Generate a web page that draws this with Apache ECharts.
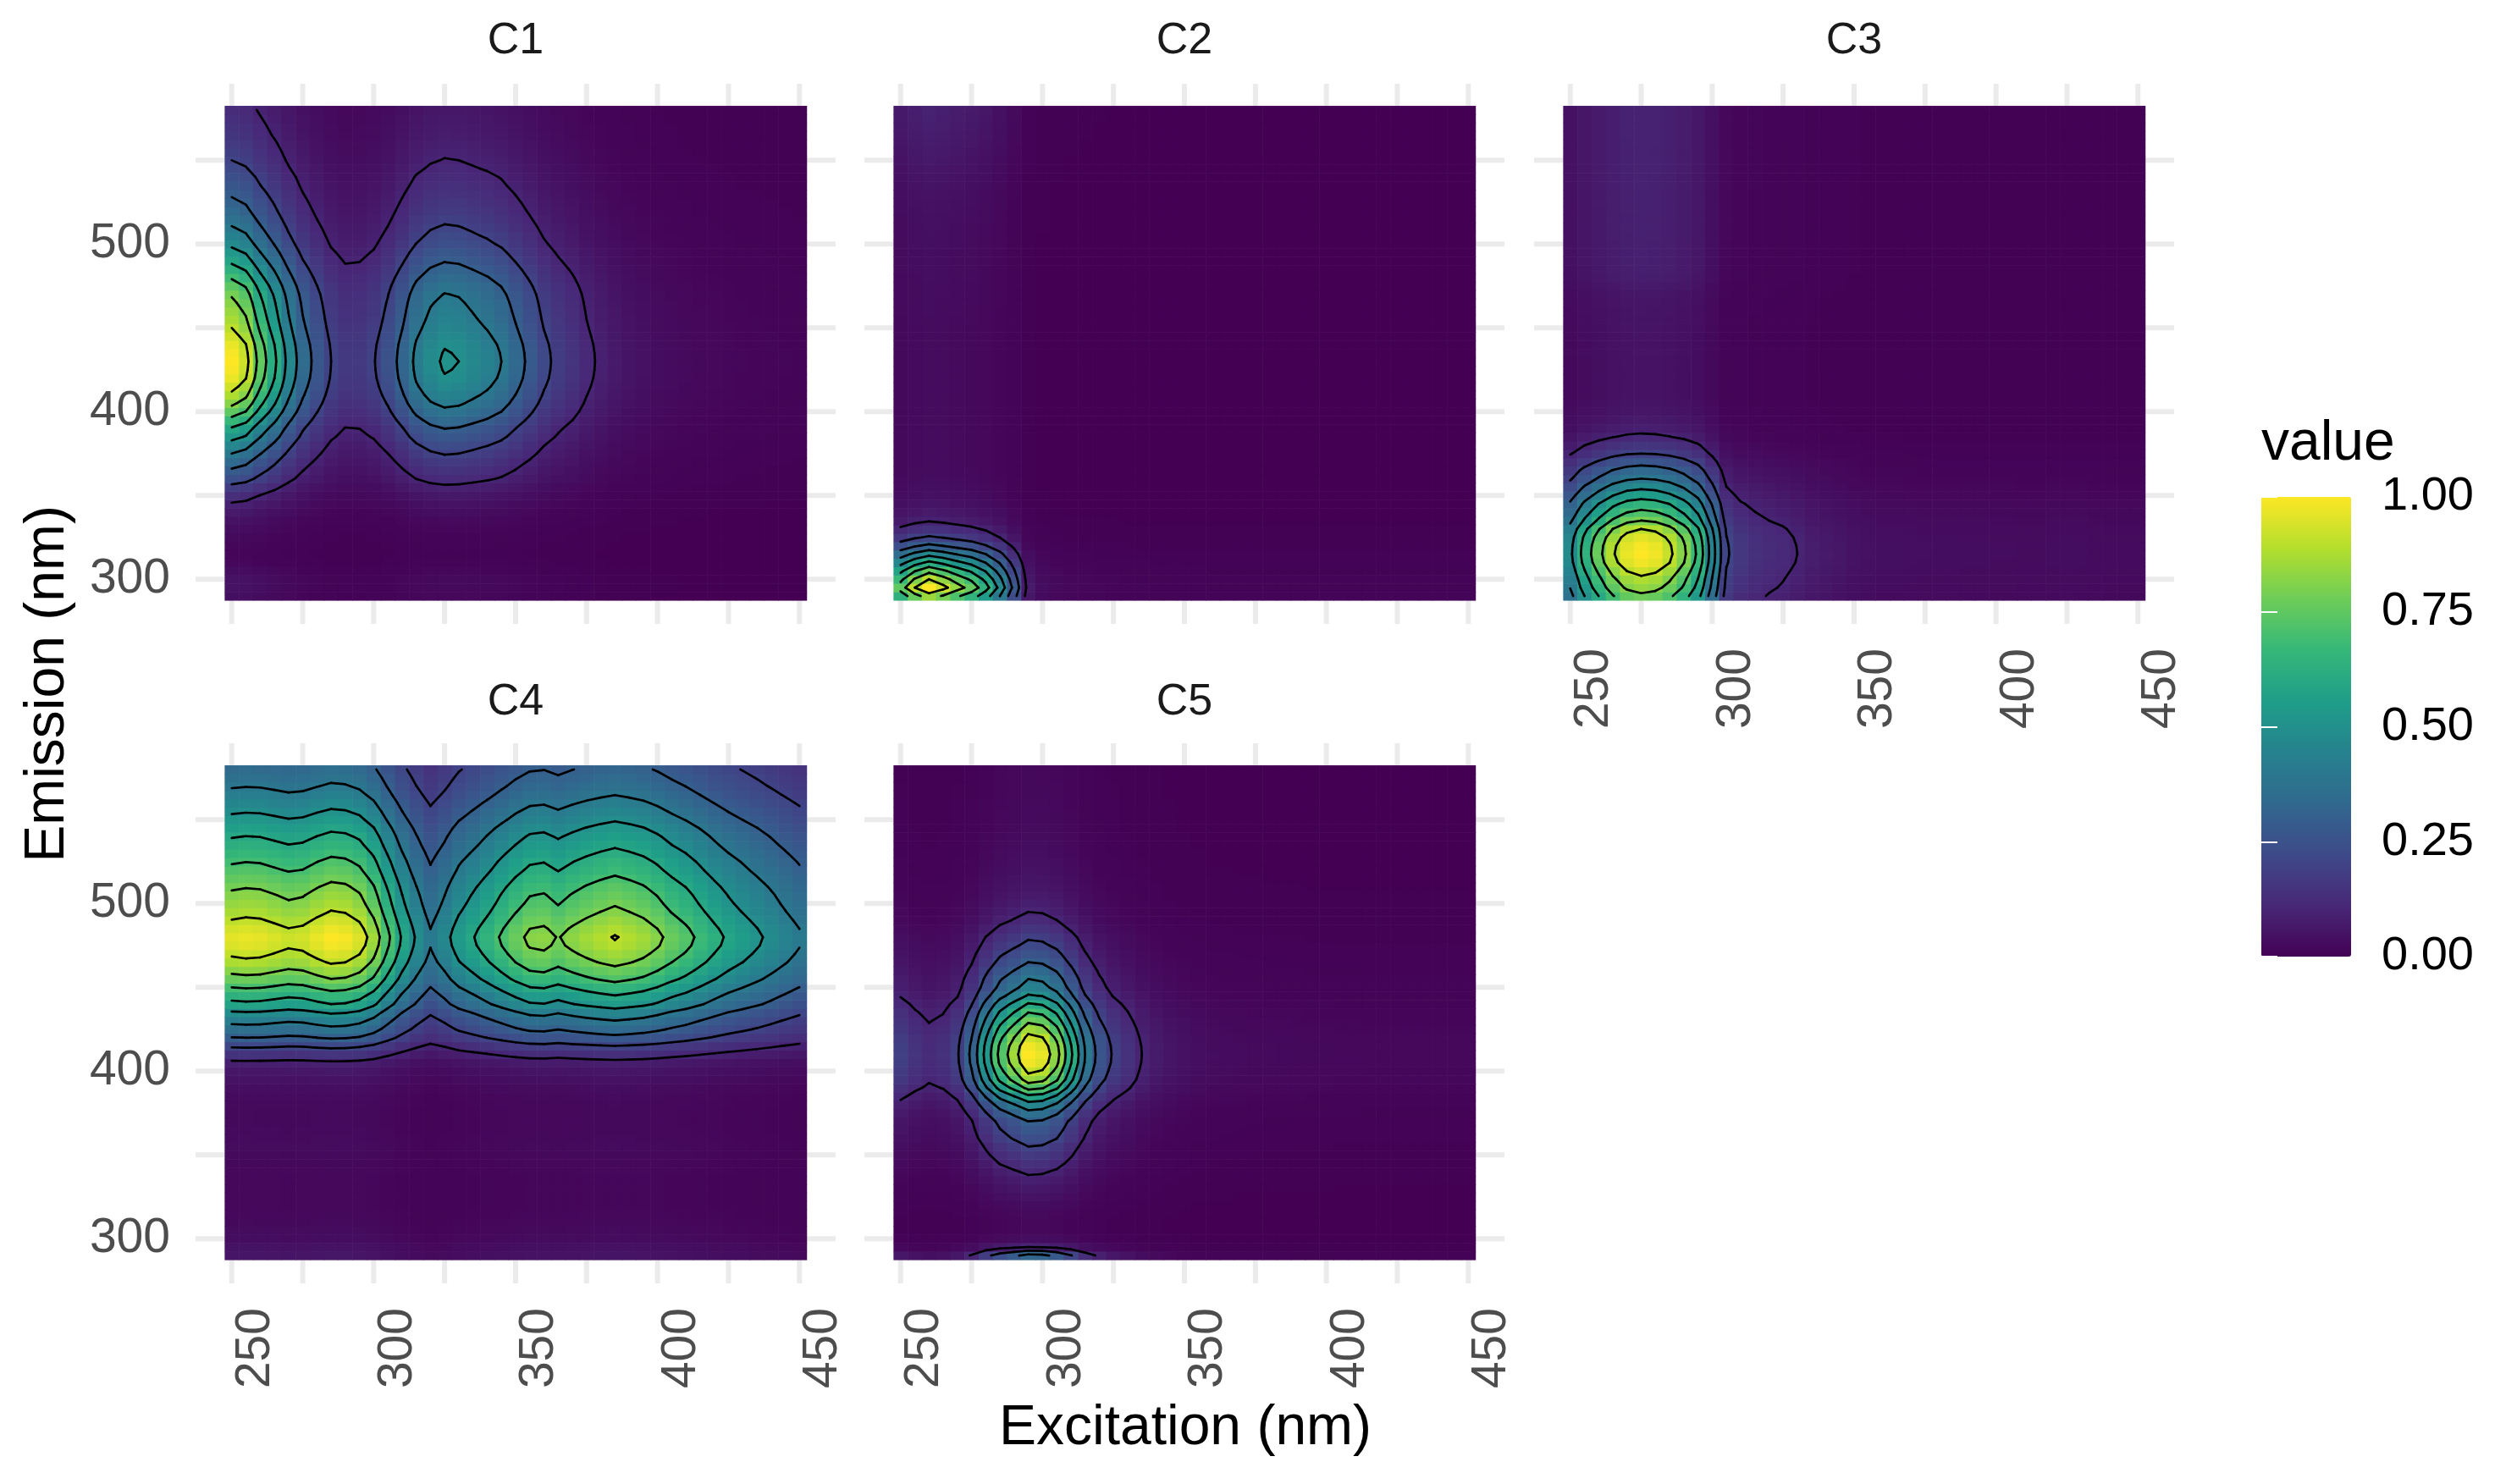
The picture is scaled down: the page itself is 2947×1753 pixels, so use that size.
<!DOCTYPE html>
<html>
<head>
<meta charset="utf-8">
<script src="https://cdn.jsdelivr.net/npm/echarts@6/dist/echarts.min.js"></script>
<style>
html,body{margin:0;padding:0;background:#ffffff;}
#chart{width:2947px;height:1753px;}
</style>
</head>
<body>
<div id="chart"></div>
<script>
// ---------- data ----------
const EXCITATION = [250,255,260,265,270,275,280,285,290,295,300,305,310,315,320,325,330,335,340,345,350,355,360,365,370,375,380,385,390,395,400,405,410,415,420,425,430,435,440,445,450];
const EMISSION = [290,295,300,305,310,315,320,325,330,335,340,345,350,355,360,365,370,375,380,385,390,395,400,405,410,415,420,425,430,435,440,445,450,455,460,465,470,475,480,485,490,495,500,505,510,515,520,525,530,535,540,545,550,555,560,565,570,575,580];
const COMPONENTS = ['C1','C2','C3','C4','C5'];

// excitation and emission loadings of each component (value = ex loading x em loading)
const C1_EX = [1.00,0.93,0.76,0.62,0.47,0.35,0.27,0.20,0.167,0.17,0.195,0.25,0.33,0.42,0.48,0.51,0.50,0.47,0.44,0.40,0.34,0.28,0.22,0.18,0.15,0.115,0.09,0.07,0.055,0.045,0.035,0.03,0.025,0.022,0.02,0.018,0.016,0.015,0.014,0.013,0.012];
const C1_EM = [0.04,0.05,0.05,0.035,0.02,0.015,0.018,0.025,0.035,0.05,0.07,0.095,0.13,0.18,0.24,0.29,0.34,0.40,0.46,0.53,0.59,0.67,0.75,0.82,0.88,0.93,0.97,0.99,1.00,0.99,0.97,0.935,0.90,0.87,0.845,0.82,0.79,0.745,0.69,0.635,0.58,0.53,0.48,0.44,0.405,0.37,0.34,0.315,0.29,0.265,0.245,0.22,0.20,0.185,0.17,0.155,0.145,0.135,0.125];

const C2_EX = [0.75,0.90,1.00,0.93,0.84,0.76,0.64,0.47,0.27,0.07,0.035,0.025,0.02,0.018,0.016,0.015,0.014,0.013,0.012,0.012,0.011,0.011,0.01,0.01,0.01,0.01,0.01,0.01,0.01,0.01,0.01,0.01,0.01,0.01,0.01,0.01,0.01,0.01,0.01,0.01,0.01];
const C2_EM = [0.85,1.00,0.90,0.77,0.62,0.47,0.32,0.21,0.145,0.095,0.07,0.055,0.045,0.04,0.035,0.032,0.03,0.03,0.03,0.03,0.03,0.03,0.03,0.03,0.03,0.03,0.03,0.03,0.03,0.03,0.03,0.03,0.03,0.032,0.033,0.034,0.035,0.035,0.036,0.037,0.038,0.038,0.04,0.04,0.042,0.043,0.045,0.047,0.05,0.053,0.057,0.062,0.067,0.072,0.077,0.082,0.086,0.09,0.092];

const C3_EX = [0.48,0.64,0.77,0.89,0.97,1.00,0.98,0.92,0.82,0.68,0.45,0.21,0.16,0.14,0.125,0.115,0.10,0.08,0.07,0.06,0.05,0.045,0.04,0.04,0.038,0.036,0.035,0.035,0.034,0.034,0.033,0.033,0.032,0.032,0.034,0.035,0.034,0.032,0.03,0.03,0.03];
const C3_EM = [0.78,0.84,0.88,0.93,0.98,1.00,0.99,0.96,0.90,0.80,0.72,0.65,0.56,0.48,0.40,0.34,0.27,0.20,0.155,0.11,0.085,0.07,0.06,0.055,0.05,0.05,0.05,0.05,0.05,0.052,0.05,0.052,0.053,0.055,0.056,0.058,0.062,0.072,0.083,0.086,0.087,0.088,0.087,0.089,0.09,0.089,0.09,0.091,0.09,0.092,0.092,0.093,0.093,0.092,0.093,0.094,0.094,0.094,0.094];

const C4_EX = [0.96,0.97,0.965,0.945,0.925,0.935,0.97,1.00,0.99,0.95,0.86,0.72,0.59,0.49,0.41,0.47,0.545,0.595,0.65,0.71,0.77,0.82,0.83,0.795,0.83,0.86,0.885,0.905,0.885,0.86,0.82,0.77,0.73,0.68,0.63,0.585,0.55,0.515,0.48,0.445,0.41];
const C4_EM = [0.06,0.05,0.035,0.03,0.025,0.022,0.02,0.02,0.02,0.02,0.022,0.024,0.026,0.03,0.028,0.026,0.025,0.025,0.027,0.03,0.038,0.05,0.065,0.09,0.15,0.22,0.31,0.38,0.44,0.51,0.60,0.66,0.73,0.80,0.855,0.91,0.95,0.985,1.00,0.975,0.94,0.905,0.875,0.85,0.82,0.785,0.75,0.72,0.685,0.65,0.62,0.585,0.545,0.51,0.475,0.44,0.41,0.385,0.36];

const C5_EX = [0.19,0.15,0.125,0.14,0.19,0.32,0.53,0.73,0.86,1.00,0.97,0.84,0.62,0.40,0.265,0.19,0.145,0.10,0.075,0.058,0.046,0.038,0.033,0.03,0.028,0.026,0.025,0.024,0.023,0.022,0.022,0.021,0.021,0.02,0.02,0.02,0.02,0.02,0.02,0.02,0.02];
const C5_EM = [0.33,0.10,0.035,0.02,0.02,0.025,0.035,0.05,0.065,0.085,0.11,0.14,0.17,0.20,0.24,0.27,0.30,0.37,0.46,0.58,0.73,0.85,0.92,0.98,1.00,0.98,0.93,0.86,0.78,0.70,0.61,0.51,0.44,0.40,0.35,0.30,0.26,0.22,0.19,0.15,0.12,0.10,0.085,0.072,0.062,0.055,0.048,0.043,0.038,0.034,0.031,0.029,0.027,0.026,0.025,0.024,0.023,0.022,0.022];

const CONTOUR_LEVELS = [0.1,0.2,0.3,0.4,0.5,0.6,0.7,0.8,0.9];
const X_GRIDLINES = [250,275,300,325,350,375,400,425,450];
const X_TICK_LABELS = [250,300,350,400,450];
const Y_GRIDLINES = [300,350,400,450,500,550];
const Y_TICK_LABELS = [300,400,500];
const LEGEND_BREAKS = [0,0.25,0.5,0.75,1];
const VIRIDIS = ['#440154','#482878','#3E4A89','#31688E','#26828E','#1F9E89','#35B779','#6DCD59','#B4DE2C','#FDE725'];

// ---------- layout ----------
const LOADINGS = {C1:[C1_EX,C1_EM], C2:[C2_EX,C2_EM], C3:[C3_EX,C3_EM], C4:[C4_EX,C4_EM], C5:[C5_EX,C5_EM]};
const PANELS = [
  {name:'C1', left:231,  top:99,  stripY:49,  xLabels:false, yLabels:true},
  {name:'C2', left:1021, top:99,  stripY:49,  xLabels:false, yLabels:false},
  {name:'C3', left:1812, top:99,  stripY:49,  xLabels:true,  yLabels:false},
  {name:'C4', left:231,  top:878, stripY:830, xLabels:true,  yLabels:true},
  {name:'C5', left:1021, top:878, stripY:830, xLabels:true,  yLabels:false}
];
const PW = 756, PH = 638;
const X_MIN = 237.25, X_MAX = 462.75, Y_MIN = 273.35, Y_MAX = 595.65;
const HALF_EX = 2.5, HALF_EM = 2.5;
const FONT = '"Liberation Sans", Arial, Helvetica, sans-serif';

function buildGrid(exL, emL) {
  const cells = [], grid = [];
  for (let j = 0; j < EMISSION.length; j++) {
    const row = [];
    for (let i = 0; i < EXCITATION.length; i++) {
      const v = exL[i] * emL[j];
      row.push(v);
      cells.push([EXCITATION[i], EMISSION[j], v]);
    }
    grid.push(row);
  }
  return {cells, grid};
}

function contourSegments(grid, level) {
  const segs = [];
  const xs = EXCITATION, ys = EMISSION;
  for (let j = 0; j < ys.length - 1; j++) {
    for (let i = 0; i < xs.length - 1; i++) {
      const c = [
        [xs[i],   ys[j],   grid[j][i]],
        [xs[i+1], ys[j],   grid[j][i+1]],
        [xs[i+1], ys[j+1], grid[j+1][i+1]],
        [xs[i],   ys[j+1], grid[j+1][i]]
      ];
      const above = c.map(p => p[2] >= level);
      const e = {};
      let n = 0;
      for (let k = 0; k < 4; k++) {
        const a = c[k], b = c[(k + 1) % 4];
        if (above[k] !== above[(k + 1) % 4]) {
          const t = (level - a[2]) / (b[2] - a[2]);
          e[k] = [a[0] + t * (b[0] - a[0]), a[1] + t * (b[1] - a[1])];
          n++;
        }
      }
      if (n === 2) {
        const ks = Object.keys(e);
        segs.push([e[ks[0]][0], e[ks[0]][1], e[ks[1]][0], e[ks[1]][1]]);
      } else if (n === 4) {
        const centre = (c[0][2] + c[1][2] + c[2][2] + c[3][2]) / 4;
        if (above[0] === (centre >= level)) {
          segs.push([e[0][0], e[0][1], e[1][0], e[1][1]]);
          segs.push([e[2][0], e[2][1], e[3][0], e[3][1]]);
        } else {
          segs.push([e[3][0], e[3][1], e[0][0], e[0][1]]);
          segs.push([e[1][0], e[1][1], e[2][0], e[2][1]]);
        }
      }
    }
  }
  return segs;
}

const gridlineData = X_GRIDLINES.map(v => [0, v]).concat(Y_GRIDLINES.map(v => [1, v]));

function renderGridline(params, api) {
  const o = api.value(0), v = api.value(1);
  let p1, p2;
  if (o === 0) { p1 = api.coord([v, Y_MIN]); p2 = api.coord([v, Y_MAX]); }
  else { p1 = api.coord([X_MIN, v]); p2 = api.coord([X_MAX, v]); }
  return {type:'line', shape:{x1:p1[0], y1:p1[1], x2:p2[0], y2:p2[1]}, style:{stroke:'#EBEBEB', lineWidth:6}};
}
function renderCell(params, api) {
  const ex = api.value(0), em = api.value(1);
  const a = api.coord([ex - HALF_EX, em + HALF_EM]);
  const b = api.coord([ex + HALF_EX, em - HALF_EM]);
  return {type:'rect', shape:{x:a[0], y:a[1], width:b[0] - a[0] + 0.6, height:b[1] - a[1] + 0.6}, style:{fill: api.visual('color')}};
}
function renderSegment(params, api) {
  const p1 = api.coord([api.value(0), api.value(1)]);
  const p2 = api.coord([api.value(2), api.value(3)]);
  return {type:'line', shape:{x1:p1[0], y1:p1[1], x2:p2[0], y2:p2[1]}, style:{stroke:'#000000', lineWidth:2.7, lineCap:'round'}};
}

const grids = [], xAxes = [], yAxes = [], series = [], heatIdx = [], graphics = [];
PANELS.forEach((p, k) => {
  grids.push({left:p.left, top:p.top, width:PW, height:PH, containLabel:false, outerBoundsMode:'none'});
  xAxes.push({
    type:'value', gridIndex:k, min:X_MIN, max:X_MAX,
    axisLine:{show:false}, axisTick:{show:false}, splitLine:{show:false},
    axisLabel:{show:p.xLabels, customValues:X_TICK_LABELS, rotate:90, verticalAlign:'top', margin:29,
               fontSize:57, color:'#4D4D4D', fontFamily:FONT}
  });
  yAxes.push({
    type:'value', gridIndex:k, min:Y_MIN, max:Y_MAX,
    axisLine:{show:false}, axisTick:{show:false}, splitLine:{show:false},
    axisLabel:{show:p.yLabels, customValues:Y_TICK_LABELS, margin:30, fontSize:57, color:'#4D4D4D', fontFamily:FONT}
  });
  const [exL, emL] = LOADINGS[p.name];
  const {cells, grid} = buildGrid(exL, emL);
  let segs = [];
  CONTOUR_LEVELS.forEach(l => { segs = segs.concat(contourSegments(grid, l)); });
  series.push({type:'custom', xAxisIndex:k, yAxisIndex:k, z:1, silent:true, clip:false,
               data:gridlineData, renderItem:renderGridline});
  heatIdx.push(series.length);
  series.push({type:'custom', name:p.name, xAxisIndex:k, yAxisIndex:k, z:2, silent:true, progressive:0,
               dimensions:['ex','em','value'], encode:{x:0, y:1}, data:cells, renderItem:renderCell});
  series.push({type:'custom', xAxisIndex:k, yAxisIndex:k, z:3, silent:true, progressive:0,
               encode:{x:[0,2], y:[1,3]}, data:segs, renderItem:renderSegment});
  graphics.push({type:'text', x:p.left + PW / 2, y:p.stripY, silent:true,
                 style:{text:p.name, fontSize:52, fontFamily:FONT, fill:'#1A1A1A', align:'center', verticalAlign:'middle'}});
});

// colour bar axis (labels + white ticks)
const LEG = {left:2671, top:587, width:106, height:543};
grids.push({left:LEG.left, top:LEG.top, width:LEG.width, height:LEG.height, containLabel:false, outerBoundsMode:'none'});
xAxes.push({type:'value', gridIndex:5, min:0, max:1, show:false});
yAxes.push({type:'value', gridIndex:5, min:0, max:1, interval:0.25, position:'right', z:10,
            axisLine:{show:false}, splitLine:{show:false},
            axisTick:{show:true, inside:true, length:19, lineStyle:{color:'#ffffff', width:2}},
            axisLabel:{customValues:LEGEND_BREAKS, margin:36, fontSize:56, color:'#000000', fontFamily:FONT,
                       formatter: v => v.toFixed(2)}});
yAxes.push({type:'value', gridIndex:5, min:0, max:1, interval:0.25, position:'left', z:10,
            axisLine:{show:false}, splitLine:{show:false}, axisLabel:{show:false},
            axisTick:{show:true, inside:true, length:19, lineStyle:{color:'#ffffff', width:2}}});

graphics.push({type:'text', x:1400, y:1688, silent:true,
  style:{text:'Excitation (nm)', fontSize:66, fontFamily:FONT, fill:'#000000', align:'center', verticalAlign:'middle'}});
graphics.push({type:'text', x:57, y:808, rotation:Math.PI / 2, silent:true,
  style:{text:'Emission (nm)', fontSize:66, fontFamily:FONT, fill:'#000000', align:'center', verticalAlign:'middle'}});
graphics.push({type:'text', x:2671, y:525, silent:true,
  style:{text:'value', fontSize:66, fontFamily:FONT, fill:'#000000', align:'left', verticalAlign:'middle'}});

const chart = echarts.init(document.getElementById('chart'), null, {renderer:'canvas'});
chart.setOption({
  animation:false,
  backgroundColor:'#ffffff',
  grid:grids,
  xAxis:xAxes,
  yAxis:yAxes,
  visualMap:{
    type:'continuous', min:0, max:1, dimension:2, seriesIndex:heatIdx,
    inRange:{color:VIRIDIS}, calculable:false, hoverLink:false, realtime:false,
    left:LEG.left, top:LEG.top, itemWidth:LEG.width, itemHeight:LEG.height, padding:0,
    text:null, showLabel:false, orient:'vertical'
  },
  graphic:{elements:graphics},
  series:series
});
</script>
</body>
</html>
